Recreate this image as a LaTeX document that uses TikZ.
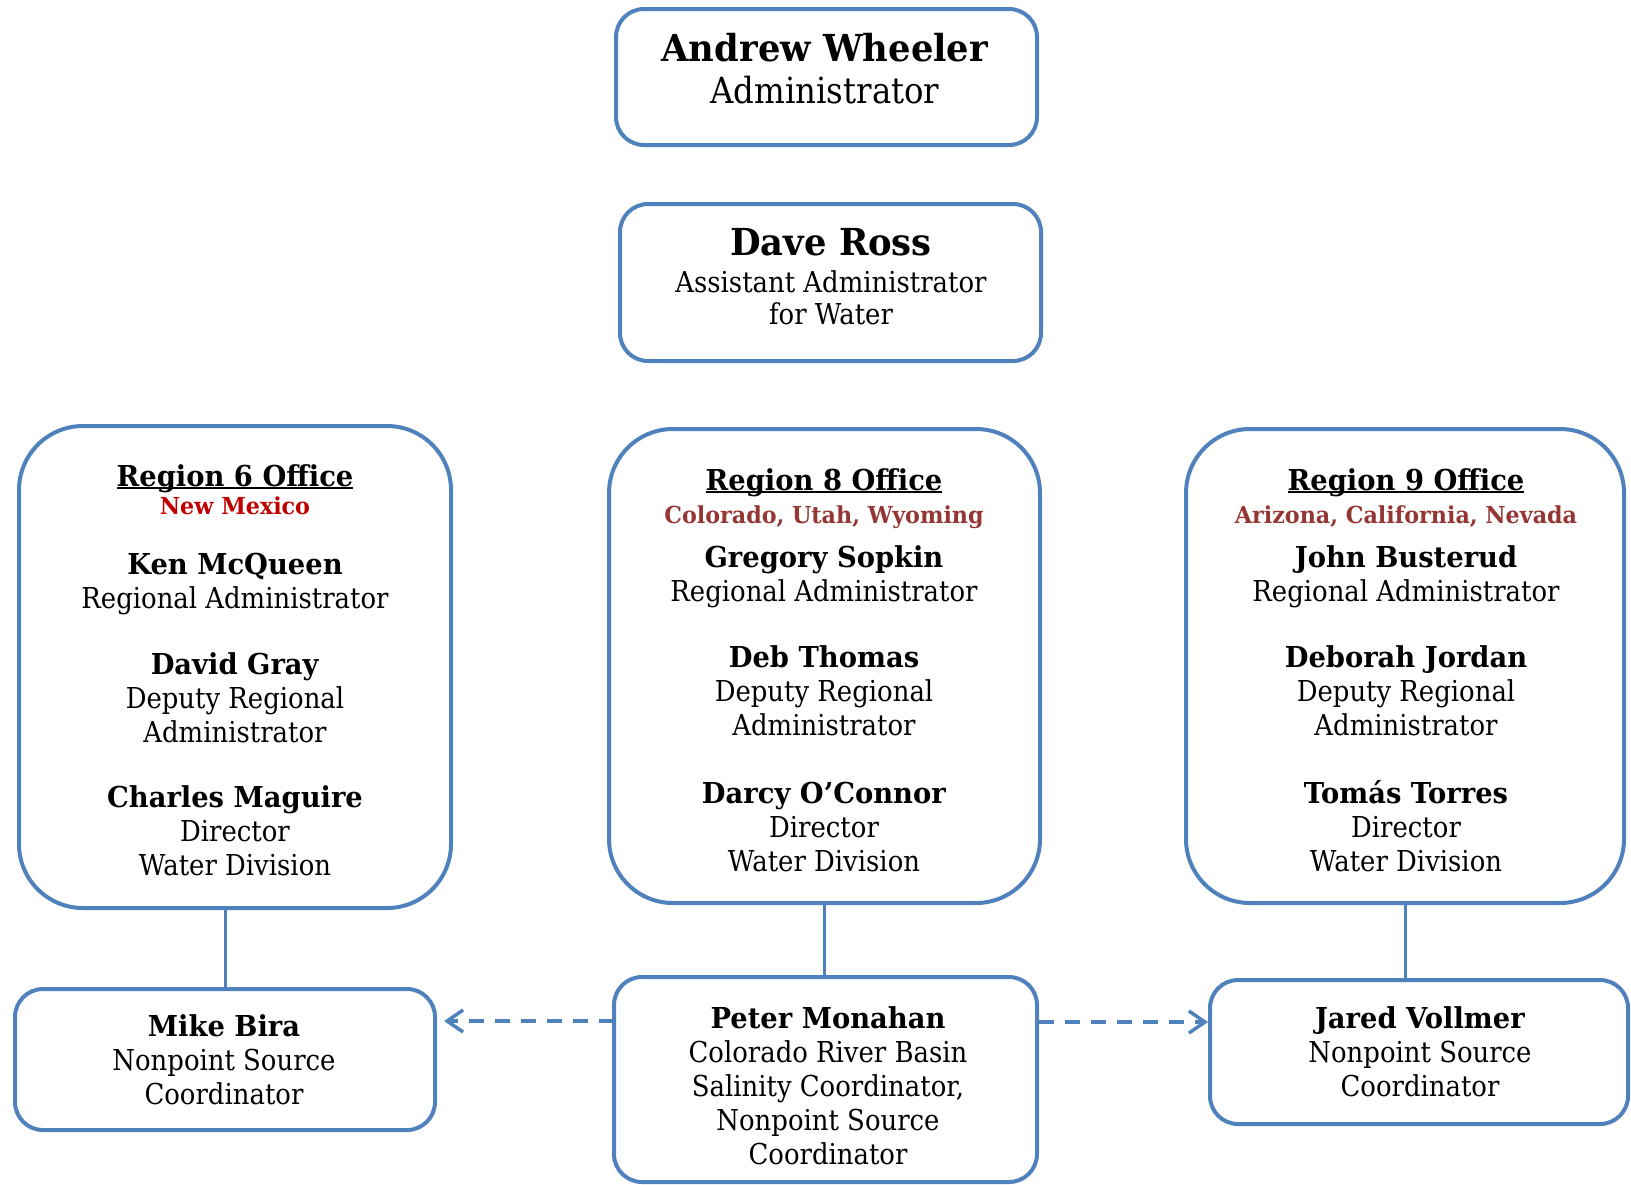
\documentclass[tikz,border=0pt]{standalone}
\usepackage{fontspec}
\setmainfont{DejaVu Serif}[FakeStretch=0.9, BoldFeatures={FakeStretch=0.95}]
\usetikzlibrary{arrows.meta}
\definecolor{boxblue}{HTML}{4F81BD}
\definecolor{nmred}{HTML}{C00000}
\definecolor{statered}{HTML}{943634}
\newcommand{\officeul}[1]{\setbox0\hbox{#1}\rlap{\rule[-1.5pt]{\wd0}{1pt}}\box0}
\tikzset{
  orgbox/.style={draw=boxblue, line width=2pt, rounded corners=14pt, inner sep=0pt},
  regionbox/.style={orgbox, rounded corners=32pt},
  orgtext/.style={align=center, inner sep=0pt, anchor=north, font=\fontsize{14.4}{17}\selectfont},
  orgline/.style={draw=boxblue, line width=1.5pt},
  dashlink/.style={orgline, line width=1.75pt, dash pattern=on 7.5pt off 5.5pt, -{Straight Barb[length=8pt,width=11pt]}},
}
\begin{document}
\begin{tikzpicture}[x=0.5pt, y=-0.5pt]
        \useasboundingbox (0,0) rectangle (1631,1184);
        % boxes
        \node[orgbox, minimum width=210.5pt, minimum height=68pt] (wheeler) at (826.5,77) {};
        \node[orgbox, minimum width=210.5pt, minimum height=78.5pt] (ross) at (830.5,282.5) {};
        \node[regionbox, minimum width=216pt, minimum height=241pt] (r6) at (235,667) {};
        \node[regionbox, minimum width=215.5pt, minimum height=237pt] (r8) at (824.5,666) {};
        \node[regionbox, minimum width=219pt, minimum height=237pt] (r9) at (1405,666) {};
        \node[orgbox, minimum width=210pt, minimum height=70.5pt] (mike) at (225,1059.5) {};
        \node[orgbox, minimum width=211.5pt, minimum height=102.5pt] (peter) at (825.5,1079.5) {};
        \node[orgbox, minimum width=209pt, minimum height=72pt] (jared) at (1419,1052) {};
        % texts
        \node[orgtext, font=\fontsize{18.6}{21}\selectfont] (wheelertxt) at (825,33)
          {\textbf{Andrew Wheeler}\\{\fontsize{18}{21}\selectfont Administrator}};
        \node[orgtext, font=\fontsize{14.4}{16}\selectfont] (rosstxt) at (831,228)
          {{\fontsize{18.6}{21}\selectfont\bfseries Dave Ross}\\[2.5pt]Assistant Administrator\\for Water};
        \node[orgtext] (r6txt) at (235,464)
          {\textbf{\officeul{Region 6 Office}}\\[-3pt]
           {\fontsize{11.7}{14}\selectfont\bfseries\color{nmred}New Mexico}\\[13pt]
           \textbf{Ken McQueen}\\Regional Administrator\\[16pt]
           \textbf{David Gray}\\Deputy Regional\\Administrator\\[15.5pt]
           \textbf{Charles Maguire}\\Director\\Water Division};
        \node[orgtext] (r8txt) at (824,468)
          {\textbf{\officeul{Region 8 Office}}\\[-0.5pt]
           {\fontsize{11.7}{14}\selectfont\bfseries\color{statered}Colorado, Utah, Wyoming}\\[5pt]
           \textbf{Gregory Sopkin}\\Regional Administrator\\[16pt]
           \textbf{Deb Thomas}\\Deputy Regional\\Administrator\\[17pt]
           \textbf{Darcy O’Connor}\\Director\\Water Division};
        \node[orgtext] (r9txt) at (1406,468)
          {\textbf{\officeul{Region 9 Office}}\\[-0.5pt]
           {\fontsize{11.7}{14}\selectfont\bfseries\color{statered}Arizona, California, Nevada}\\[5pt]
           \textbf{John Busterud}\\Regional Administrator\\[16pt]
           \textbf{Deborah Jordan}\\Deputy Regional\\Administrator\\[17pt]
           \textbf{Tomás Torres}\\Director\\Water Division};
        \node[orgtext] (miketxt) at (224,1014)
          {\textbf{Mike Bira}\\Nonpoint Source\\Coordinator};
        \node[orgtext] (petertxt) at (828,1006)
          {\textbf{Peter Monahan}\\Colorado River Basin\\Salinity Coordinator,\\Nonpoint Source\\Coordinator};
        \node[orgtext] (jaredtxt) at (1420,1006)
          {\textbf{Jared Vollmer}\\Nonpoint Source\\Coordinator};
        % connectors
        \coordinate (peterleft) at (614,1021);
        \coordinate (peterright) at (1039,1022);
        \draw[orgline] (mike.north) -- (mike.north |- r6.south);
        \draw[orgline] (r8.south) -- (r8.south |- peter.north);
        \draw[orgline] (r9.south) -- (r9.south |- jared.north);
        \draw[dashlink, shorten >=3.5pt] (peterleft) -- (peterleft -| mike.east);
        \draw[dashlink] (peterright) -- (peterright -| jared.west);
\end{tikzpicture}
\end{document}
